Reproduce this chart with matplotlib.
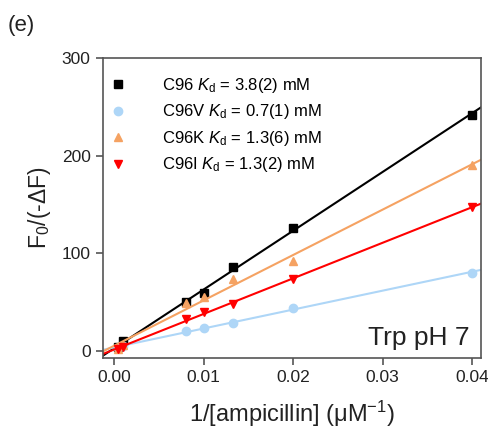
import numpy as np
import matplotlib.pyplot as plt

plt.rcParams['font.family'] = ['Liberation Sans', 'DejaVu Sans']
plt.rcParams['mathtext.fontset'] = 'custom'
plt.rcParams['mathtext.rm'] = 'Liberation Sans'
plt.rcParams['mathtext.it'] = 'Liberation Sans:italic'

# 1/[ampicillin] (uM^-1)
x = [0.0005, 0.001, 0.008, 0.01, 0.0133, 0.02, 0.04]

c96 = [4, 10, 50, 59, 86, 126, 242]
c96v = [3, 5, 20, 24, 29, 44, 80]
c96k = [2, 6, 49, 55, 74, 92, 190]
c96i = [2, 4, 33, 40, 48, 74, 147]

labels = ['C96 $K_\\mathrm{d}$ = 3.8(2) mM',
          'C96V $K_\\mathrm{d}$ = 0.7(1) mM',
          'C96K $K_\\mathrm{d}$ = 1.3(6) mM',
          'C96I $K_\\mathrm{d}$ = 1.3(2) mM']
colors = ['black', '#aed6f7', '#f5a262', '#ff0000']
markers = ['s', 'o', '^', 'v']

fig = plt.figure(figsize=(4.89, 4.29), dpi=100)
ax = fig.add_axes([0.211, 0.166, 0.773, 0.699])

xmin, xmax = -0.0012, 0.041
xx = np.array([xmin, xmax])
for ys, c, m, lab in zip([c96, c96v, c96k, c96i], colors, markers, labels):
    k, b = np.polyfit(x, ys, 1)
    ax.plot(xx, k * xx + b, color=c, lw=1.5)
    ax.plot(x, ys, ls='none', marker=m, color=c, ms=6, label=lab)

ax.set_xlim(xmin, xmax)
ax.set_ylim(-7, 300)
ax.set_xticks([0.0, 0.01, 0.02, 0.03, 0.04])
ax.set_xticklabels(['0.00', '0.01', '0.02', '0.03', '0.04'])
ax.set_yticks([0, 100, 200, 300])
for s in ax.spines.values():
    s.set_color('#555555')
    s.set_linewidth(1.2)
ax.tick_params(direction='out', length=5, width=1.2, color='#555555',
               labelsize=12.5, labelcolor='#222222', pad=4)

ax.set_xlabel('1/[ampicillin] ($\\mathrm{\\mu}$M$^{\\mathrm{-1}}$)', fontsize=17,
              color='#222222', labelpad=10)
ax.set_ylabel('F$_\\mathrm{0}$/(-$\\Delta$F)', fontsize=16.5, color='#222222', labelpad=6)

ax.legend(loc='upper left', bbox_to_anchor=(0, 0.96), frameon=False, fontsize=12,
          handletextpad=2.15, handlelength=1.0, labelspacing=0.45,
          borderaxespad=0, borderpad=0.36)
ax.text(0.97, 0.025, 'Trp pH 7', transform=ax.transAxes, ha='right', va='bottom',
        fontsize=19, color='#222222')
fig.text(0.015, 0.965, '(e)', fontsize=16, va='top', ha='left', color='#222222')

fig.savefig('out.png', dpi=100)
